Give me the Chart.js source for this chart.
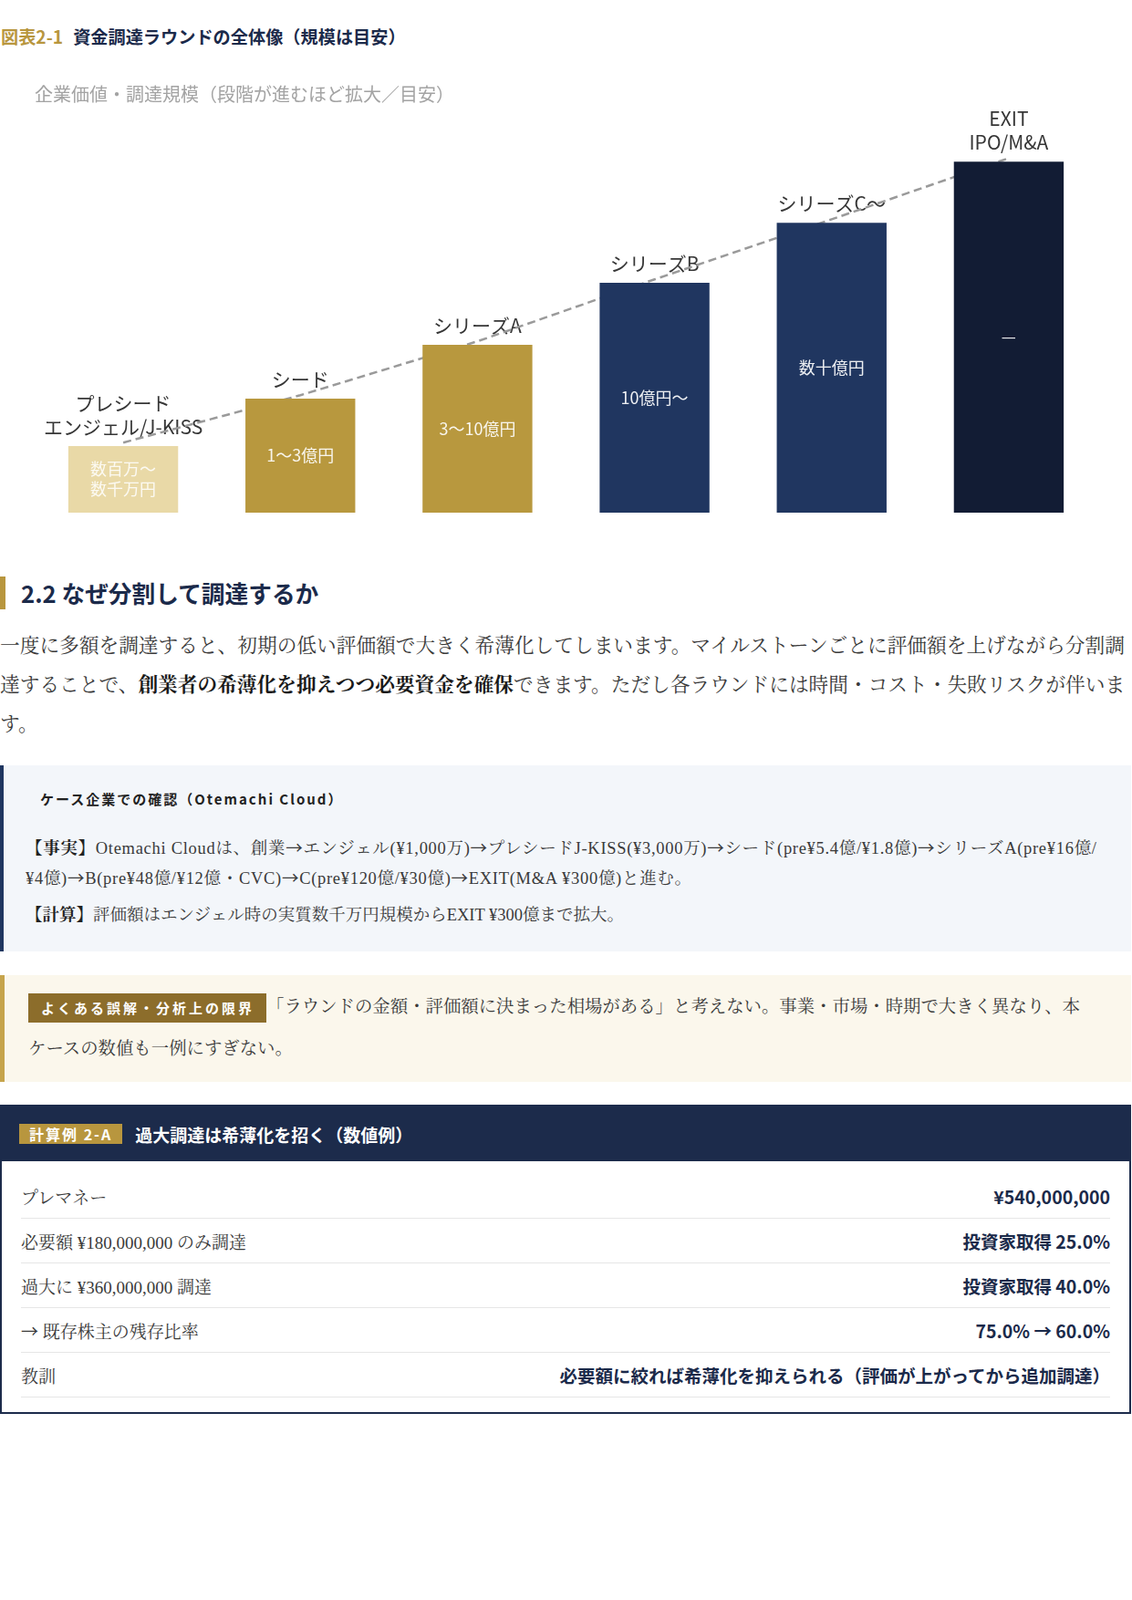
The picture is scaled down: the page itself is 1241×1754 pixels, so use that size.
<!DOCTYPE html>
<html lang="ja">
<head>
<meta charset="utf-8">
<script src="https://cdn.jsdelivr.net/npm/chart.js@4.4.1/dist/chart.umd.min.js"></script>
<style>
html,body{margin:0;padding:0;background:#fff;}
body{width:1241px;height:1754px;position:relative;font-family:"Noto Sans CJK JP",sans-serif;color:#333;}
.serif{font-family:"Liberation Serif","Noto Serif CJK JP","Noto Sans CJK JP",serif;}
.ar{font-family:"Noto Sans CJK JP",sans-serif;}
.fig-title{position:absolute;left:1px;top:26px;height:28px;line-height:28px;font-size:19.2px;font-weight:700;color:#1b2a4a;white-space:nowrap;}
.fig-title .num{color:#b8963e;margin-right:11px;}
.chart-wrap{position:absolute;left:0;top:70px;width:1241px;height:520px;}
h2{position:absolute;left:0;top:632px;margin:0;height:36px;line-height:36px;font-size:25.7px;font-weight:700;color:#1b2a4a;border-left:6px solid #b8963e;padding-left:17px;white-space:nowrap;}
.lead{position:absolute;left:0;top:687px;width:1241px;margin:0;font-size:21.7px;line-height:43px;color:#3a3a3a;}
.lead b{color:#1a1a1a;}
.case{position:absolute;left:0;top:839px;width:1240px;height:204px;box-sizing:border-box;background:#f3f6fa;border-left:4px solid #1f3660;padding:25px 10px 0 24px;}
.case h3{margin:0 0 0 16px;font-size:15px;line-height:24px;font-weight:700;letter-spacing:2px;color:#222;white-space:nowrap;}
.case p{margin:0;font-size:18.5px;line-height:31px;color:#3a3a3a;white-space:nowrap;}
.case p.fact{margin-top:25px;letter-spacing:0.7px;}
.case p.calc{margin-top:9px;}
.case p b{color:#222;}
.warn{position:absolute;left:0;top:1069px;width:1240px;height:117px;box-sizing:border-box;background:#fbf7ec;border-left:5px solid #c6a44c;padding:12px 10px 0 26px;font-size:19.4px;line-height:46px;color:#3a3a3a;white-space:nowrap;}
.warn .badge{display:inline-block;height:32px;line-height:32px;padding:0 13px 0 14px;background:#8c6d2b;color:#fff;font-family:"Noto Sans CJK JP",sans-serif;font-size:15px;font-weight:700;letter-spacing:3px;vertical-align:middle;position:relative;top:-1px;}
.calcbox{position:absolute;left:0;top:1211px;width:1240px;height:339px;box-sizing:border-box;border:2px solid #1c2b4b;}
.calc-head{height:60px;background:#1c2b4b;display:flex;align-items:center;padding-left:19px;}
.calc-head .tag{height:22px;line-height:22px;padding:0 11px;background:#b8963e;color:#fff;font-size:16px;font-weight:700;letter-spacing:2px;}
.calc-head .ttl{margin-left:14px;color:#fff;font-size:19px;font-weight:700;white-space:nowrap;}
.calc-body{padding:14px 21px 0 21px;}
.row{display:flex;justify-content:space-between;align-items:center;height:48px;border-bottom:1px solid #e6e6e6;}
.row .l{font-size:19px;color:#3a3a3a;}
.row .r{font-size:19.5px;font-weight:700;color:#1b2a4a;font-family:"Noto Sans CJK JP",sans-serif;white-space:nowrap;}
</style>
</head>
<body>
<div class="fig-title"><span class="num">図表2-1</span>資金調達ラウンドの全体像（規模は目安）</div>
<div class="chart-wrap"><canvas id="c" width="1241" height="520"></canvas></div>

<h2>2.2 なぜ分割して調達するか</h2>
<p class="lead serif">一度に多額を調達すると、初期の低い評価額で大きく希薄化してしまいます。マイルストーンごとに評価額を上げながら分割調達することで、<b>創業者の希薄化を抑えつつ必要資金を確保</b>できます。ただし各ラウンドには時間・コスト・失敗リスクが伴います。</p>

<div class="case">
<h3>ケース企業での確認（Otemachi Cloud）</h3>
<p class="fact serif"><b>【事実】</b>Otemachi Cloudは、創業<span class="ar">→</span>エンジェル(¥1,000万)<span class="ar">→</span>プレシードJ-KISS(¥3,000万)<span class="ar">→</span>シード(pre¥5.4億/¥1.8億)<span class="ar">→</span>シリーズA(pre¥16億/<br>¥4億)<span class="ar">→</span>B(pre¥48億/¥12億・CVC)<span class="ar">→</span>C(pre¥120億/¥30億)<span class="ar">→</span>EXIT(M&amp;A ¥300億)と進む。</p>
<p class="calc serif"><b>【計算】</b>評価額はエンジェル時の実質数千万円規模からEXIT ¥300億まで拡大。</p>
</div>

<div class="warn serif"><span class="badge">よくある誤解・分析上の限界</span>「ラウンドの金額・評価額に決まった相場がある」と考えない。事業・市場・時期で大きく異なり、本<br>ケースの数値も一例にすぎない。</div>

<div class="calcbox">
<div class="calc-head"><span class="tag">計算例 2-A</span><span class="ttl">過大調達は希薄化を招く（数値例）</span></div>
<div class="calc-body">
<div class="row"><span class="l serif">プレマネー</span><span class="r">¥540,000,000</span></div>
<div class="row"><span class="l serif">必要額 ¥180,000,000 のみ調達</span><span class="r">投資家取得 25.0%</span></div>
<div class="row"><span class="l serif">過大に ¥360,000,000 調達</span><span class="r">投資家取得 40.0%</span></div>
<div class="row"><span class="l serif"><span class="ar">→</span> 既存株主の残存比率</span><span class="r">75.0% → 60.0%</span></div>
<div class="row"><span class="l serif">教訓</span><span class="r">必要額に絞れば希薄化を抑えられる（評価が上がってから追加調達）</span></div>
</div>
</div>

<script>
// ---- data ----
const chartSubtitle = '企業価値・調達規模（段階が進むほど拡大／目安）';
const categories = [
  ['プレシード', 'エンジェル/J-KISS'],
  ['シード'],
  ['シリーズA'],
  ['シリーズB'],
  ['シリーズC～'],
  ['EXIT', 'IPO/M&A']
];
const amountLabels = [
  ['数百万～', '数千万円'],
  ['1～3億円'],
  ['3～10億円'],
  ['10億円～'],
  ['数十億円'],
  ['—']
];
// relative scale (0-100, illustrative)
const scaleValues = [17.3, 29.6, 43.6, 59.7, 75.3, 91.2];
const trendValues = [18.2, 30.5, 44.5, 60.6, 76.2, 92.1];

// ---- styles ----
const barColors = ['#e9d9a7', '#b8983e', '#b8983e', '#203660', '#203660', '#121c34'];
const textColors = ['rgba(255,255,255,0.85)', 'rgba(255,255,255,0.9)', 'rgba(255,255,255,0.9)',
                    'rgba(255,255,255,0.92)', 'rgba(255,255,255,0.92)', 'rgba(255,255,255,0.92)'];
const FONT = '"Noto Sans CJK JP", "Noto Sans", sans-serif';

const roundLabels = {
  id: 'roundLabels',
  beforeDatasetsDraw(chart) {
    const meta = chart.getDatasetMeta(1);
    const ctx = chart.ctx;
    ctx.save();
    ctx.font = '21px ' + FONT;
    ctx.fillStyle = '#363636';
    ctx.textAlign = 'center';
    ctx.textBaseline = 'middle';
    meta.data.forEach((bar, i) => {
      const lines = categories[i];
      const n = lines.length;
      lines.forEach((t, j) => ctx.fillText(t, bar.x, bar.y - 21 - (n - 1 - j) * 26));
    });
    ctx.restore();
  },
  afterDatasetsDraw(chart) {
    const meta = chart.getDatasetMeta(1);
    const ctx = chart.ctx;
    ctx.save();
    ctx.font = '18px ' + FONT;
    ctx.textAlign = 'center';
    ctx.textBaseline = 'middle';
    meta.data.forEach((bar, i) => {
      const lines = amountLabels[i];
      const n = lines.length;
      const cy = (bar.y + bar.base) / 2;
      ctx.fillStyle = textColors[i];
      lines.forEach((t, j) => ctx.fillText(t, bar.x, cy + (j - (n - 1) / 2) * 22));
    });
    ctx.restore();
  }
};

new Chart(document.getElementById('c'), {
  type: 'bar',
  data: {
    labels: categories,
    datasets: [
      {
        type: 'line',
        data: trendValues,
        borderColor: '#9a9a9a',
        borderWidth: 2.5,
        borderDash: [9, 5],
        pointRadius: 0,
        fill: false,
        tension: 0,
        order: 2
      },
      {
        type: 'bar',
        data: scaleValues,
        backgroundColor: barColors,
        borderWidth: 0,
        barPercentage: 0.62,
        categoryPercentage: 1.0,
        order: 1
      }
    ]
  },
  options: {
    responsive: false,
    animation: false,
    layout: { padding: { left: 38, right: 38, top: 0, bottom: 28 } },
    scales: {
      x: { display: false, grid: { display: false } },
      y: { display: false, min: 0, max: 100 }
    },
    plugins: {
      legend: { display: false },
      tooltip: { enabled: false },
      title: {
        display: true,
        text: chartSubtitle,
        align: 'start',
        color: '#a3a3a3',
        font: { family: FONT, size: 20, weight: 'normal' },
        padding: { top: 21, bottom: 25 }
      }
    }
  },
  plugins: [roundLabels]
});
</script>
</body>
</html>
